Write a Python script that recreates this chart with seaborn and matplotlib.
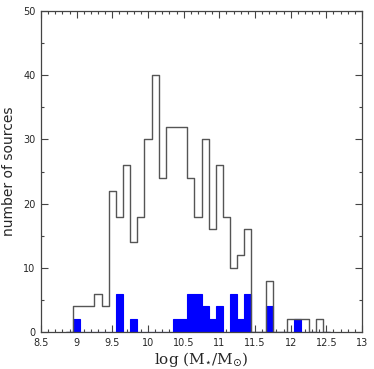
import numpy as np
import pandas as pd
import matplotlib
matplotlib.use("Agg")
import matplotlib.pyplot as plt
import seaborn as sns
from matplotlib.ticker import MultipleLocator

# bin centres (width 0.1)
centers = [round(8.9 + 0.1 * i, 2) for i in range(37)]  # 8.9 ... 12.5
all_counts = [0, 4, 4, 4, 6, 4, 22, 18, 26, 14, 18, 30, 40, 24, 32, 32, 32, 24, 18,
              30, 16, 26, 18, 10, 12, 16, 0, 0, 8, 0, 0, 2, 2, 2, 0, 2, 0]
sel_counts = [0, 2, 0, 0, 0, 0, 0, 6, 0, 2, 0, 0, 0, 0, 0, 2, 2, 6, 6,
              4, 2, 4, 0, 6, 2, 6, 0, 0, 4, 0, 0, 0, 2, 0, 0, 0, 0]

df = pd.DataFrame({"logm": centers, "all": all_counts, "sel": sel_counts})

sns.set_style("ticks")
fig = plt.figure(figsize=(3.74, 3.69), dpi=100)
ax = fig.add_axes([0.1096, 0.100, 0.8584, 0.870])

sns.histplot(data=df, x="logm", weights="all", binwidth=0.1, binrange=(8.85, 12.55),
             element="step", fill=False, color="#555555", linewidth=1.0, ax=ax)
sns.histplot(data=df, x="logm", weights="sel", binwidth=0.1, binrange=(8.85, 12.55),
             element="bars", fill=True, color="#0000ff", alpha=1.0,
             edgecolor="#0000ff", linewidth=0.8, ax=ax)

ax.set_xlim(8.5, 13)
ax.set_ylim(0, 50)
ax.xaxis.set_major_locator(MultipleLocator(0.5))
ax.xaxis.set_minor_locator(MultipleLocator(0.1))
ax.yaxis.set_major_locator(MultipleLocator(10))
ax.yaxis.set_minor_locator(MultipleLocator(5))
ax.set_xticks([8.5, 9, 9.5, 10, 10.5, 11, 11.5, 12, 12.5, 13])
ax.set_xticklabels(["8.5", "9", "9.5", "10", "10.5", "11", "11.5", "12", "12.5", "13"])
ax.tick_params(which="both", direction="in", top=True, right=True, labelsize=7, color="#444444", pad=4)
ax.tick_params(which="major", length=5, width=0.8)
ax.tick_params(which="minor", length=2.5, width=0.8)
for s in ax.spines.values():
    s.set_linewidth(0.9)
    s.set_color("#444444")

ax.set_ylabel("number of sources", fontsize=10, family="DejaVu Sans", labelpad=5)
ax.set_xlabel(r"log (M$_{\star}$/M$_{\odot}$)", fontsize=11, family="DejaVu Serif", labelpad=2)

fig.savefig("out.png", dpi=100)
